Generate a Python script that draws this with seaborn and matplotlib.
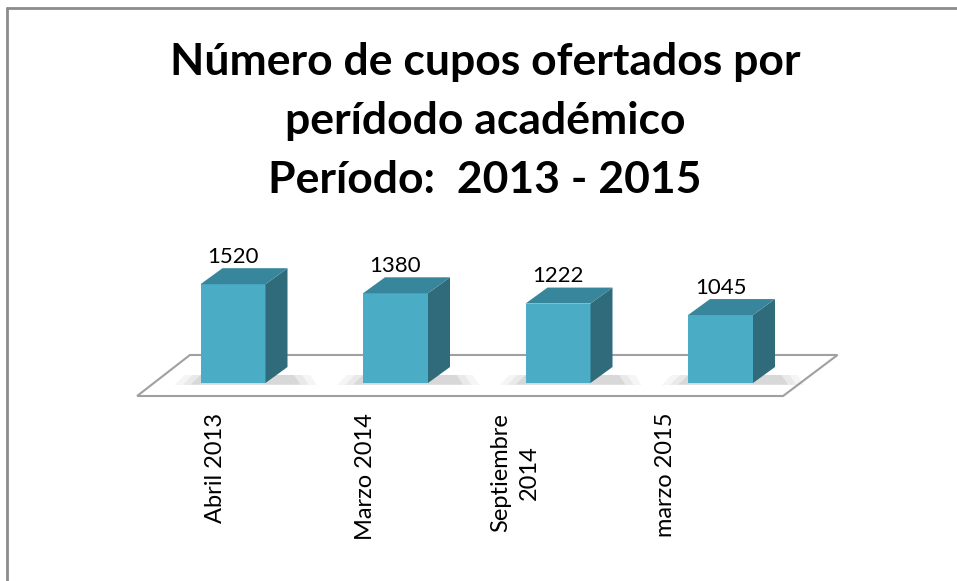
import matplotlib
matplotlib.use("Agg")
import matplotlib.pyplot as plt
from matplotlib.patches import Polygon
from matplotlib.lines import Line2D
import seaborn as sb

"""
cupos ofertados por periodo academico, barras 3D estilo Excel
"""

periodos = ["Abril 2013", "Marzo 2014", "Septiembre\n2014", "marzo 2015"]
cupos = [1520, 1380, 1222, 1045]

titulo = "Número de cupos ofertados por\nperídodo académico\nPeríodo:  2013 - 2015"

frente = "#4BACC6"
tapa = "#38869B"
lado = "#2F6B7A"

sb.set_theme(style="white")
plt.rcParams['font.family'] = ['Lato', 'DejaVu Sans']
plt.rcParams['text.color'] = 'black'

fig = plt.figure(figsize=(9.57, 5.81), dpi=100)
ax = fig.add_axes([0, 0, 1, 1])

sb.barplot(x=periodos, y=cupos, color=frente, saturation=1, width=0.4, ax=ax,
           zorder=3, linewidth=0, edgecolor=frente)

# pixel mapping: bar 0 centre at px 233, spacing 162.5 px, baseline at py 383, 0.065 px per cupo
W, H = 957, 581
px0, step, py0, k = 233, 162.5, 383, 0.065
ax.set_xlim((0 - px0) / step, (W - px0) / step)
ax.set_ylim((py0 - H) / k, py0 / k)
ax.axis('off')

dx = 22 / step
dy = 16 / k

# floor
n = len(cupos)
piso_front = -200
piso_back = 431
piso = Polygon([(-0.59, piso_front), (n - 1 + 0.385, piso_front),
                (n - 1 + 0.72, piso_back), (-0.265, piso_back)],
               closed=True, facecolor='white', edgecolor='#A0A0A0', lw=1.5, zorder=1)
ax.add_patch(piso)

for bar in ax.patches[:n]:
    x0 = bar.get_x()
    x1 = x0 + bar.get_width()
    h = bar.get_height()
    # soft shadow, a few layers
    for j, a in enumerate([0.06, 0.08, 0.12]):
        g = 0.05 * (2 - j)
        ax.add_patch(Polygon([(x0 - 0.06 - g, -25 - 60 * g), (x1 + dx + 0.08 + g, -25 - 60 * g),
                              (x1 + dx + 0.04 + g, dy * 0.5), (x0 - g, dy * 0.5)],
                             closed=True, facecolor='#606060', alpha=a, lw=0, zorder=2))
    ax.add_patch(Polygon([(x1, 0), (x1 + dx, dy), (x1 + dx, h + dy), (x1, h)],
                         closed=True, facecolor=lado, lw=0, zorder=3))
    ax.add_patch(Polygon([(x0, h), (x1, h), (x1 + dx, h + dy), (x0 + dx, h + dy)],
                         closed=True, facecolor=tapa, lw=0, zorder=3))
    ax.annotate(f"{h:.0f}", (x0 + bar.get_width() / 2, h + dy), xytext=(0, 1),
                textcoords='offset points', ha='center', va='bottom', fontsize=16, color='black')

for i, p in enumerate(periodos):
    ax.text(i - 0.11 - 0.077 * i, -461, p, rotation=90, ha='center', va='top',
            multialignment='center', fontsize=17, linespacing=1.45)

fig.text(0.507, 1 - 42 / H, titulo, ha='center', va='top', fontsize=32,
         fontweight='bold', linespacing=1.58)

# chart border (top and left only visible)
fig.add_artist(Line2D([7 / W, 7 / W], [0, 1 - 8 / H], color='#8C8C8C', lw=2))
fig.add_artist(Line2D([7 / W, 1], [1 - 8 / H, 1 - 8 / H], color='#8C8C8C', lw=2))

fig.savefig("out.png", dpi=100)
